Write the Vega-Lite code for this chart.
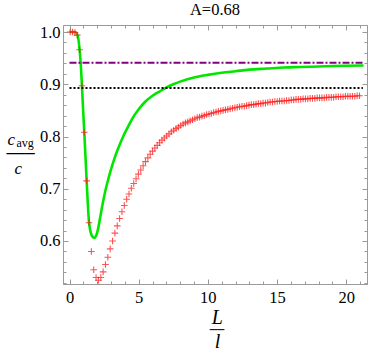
{
  "$schema": "https://vega.github.io/schema/vega-lite/v6.json",
  "width": 304,
  "height": 259,
  "autosize": "none",
  "padding": {"left": 63, "top": 25, "right": 7, "bottom": 70},
  "background": "white",
  "title": {"text": "A=0.68", "font": "Liberation Serif, Times New Roman, serif", "fontSize": 16.5, "fontWeight": "normal", "color": "black", "frame": "group", "anchor": "middle", "offset": 6},
  "config": {
    "font": "Liberation Serif, Times New Roman, serif",
    "view": {"stroke": null},
    "axis": {
      "grid": false,
      "domainColor": "#9a9a9a",
      "tickColor": "#9a9a9a",
      "labelFont": "Liberation Serif, Times New Roman, serif",
      "labelFontSize": 16.5,
      "labelColor": "black",
      "labelFlush": false,
      "labelOverlap": false,
      "titleFont": "Liberation Serif, Times New Roman, serif",
      "titleFontWeight": "normal",
      "titleColor": "black",
      "titleAngle": 0,
      "titlePadding": 0
    }
  },
  "resolve": {"axis": {"x": "independent", "y": "independent"}},
  "layer": [
    {
      "data": {"values": [
        {"x": 0, "y": 1.0}, {"x": 0.4, "y": 1.0}, {"x": 0.55, "y": 0.996}, {"x": 0.65, "y": 0.985},
        {"x": 0.73, "y": 0.966}, {"x": 0.82, "y": 0.936}, {"x": 0.9, "y": 0.897}, {"x": 0.98, "y": 0.853},
        {"x": 1.07, "y": 0.808}, {"x": 1.24, "y": 0.715}, {"x": 1.41, "y": 0.636}, {"x": 1.5, "y": 0.62},
        {"x": 1.6, "y": 0.611}, {"x": 1.7, "y": 0.607}, {"x": 1.79, "y": 0.606}, {"x": 1.9, "y": 0.609},
        {"x": 2.0, "y": 0.616}, {"x": 2.1, "y": 0.628}, {"x": 2.25, "y": 0.65}, {"x": 2.44, "y": 0.677},
        {"x": 2.6, "y": 0.697}, {"x": 2.8, "y": 0.718}, {"x": 3.0, "y": 0.737}, {"x": 3.29, "y": 0.761},
        {"x": 3.5, "y": 0.776}, {"x": 3.88, "y": 0.8}, {"x": 4.2, "y": 0.817}, {"x": 4.49, "y": 0.832},
        {"x": 5.0, "y": 0.852}, {"x": 5.45, "y": 0.866}, {"x": 6.0, "y": 0.878}, {"x": 6.5, "y": 0.886},
        {"x": 7.02, "y": 0.894}, {"x": 7.5, "y": 0.9}, {"x": 8.0, "y": 0.905}, {"x": 9.0, "y": 0.913},
        {"x": 10.0, "y": 0.918}, {"x": 11.0, "y": 0.922}, {"x": 12.0, "y": 0.925}, {"x": 13.0, "y": 0.928},
        {"x": 14.24, "y": 0.93}, {"x": 15.5, "y": 0.932}, {"x": 16.64, "y": 0.933}, {"x": 18.0, "y": 0.934},
        {"x": 19.05, "y": 0.935}, {"x": 21.25, "y": 0.936}
      ]},
      "mark": {"type": "line", "color": "#00e600", "strokeWidth": 2.6, "interpolate": "monotone"},
      "encoding": {
        "x": {"field": "x", "type": "quantitative", "scale": {"domain": [-0.47, 21.5], "nice": false, "zero": false},
          "axis": {"orient": "bottom", "values": [0, 5, 10, 15, 20], "format": "d", "tickSize": -5, "labelPadding": 10,
            "title": "L", "titleFontStyle": "italic", "titleFontSize": 20, "titleX": 153.7, "titleY": 39, "titleAlign": "center", "titleBaseline": "alphabetic"}},
        "y": {"field": "y", "type": "quantitative", "scale": {"domain": [0.5177, 1.0134], "nice": false, "zero": false},
          "axis": {"orient": "left", "values": [0.6, 0.7, 0.8, 0.9, 1.0], "format": ".1f", "tickSize": -5, "labelPadding": 8,
            "title": "c", "titleFontStyle": "italic", "titleFontSize": 17, "titleX": -56, "titleY": 119, "titleAlign": "left", "titleBaseline": "alphabetic"}}
      }
    },
    {
      "data": {"values": [
        {"x": 0.05, "y": 1.0}, {"x": 0.22, "y": 1.0}, {"x": 0.39, "y": 0.999}, {"x": 0.56, "y": 0.994},
        {"x": 0.73, "y": 0.966}, {"x": 0.9, "y": 0.897}, {"x": 1.07, "y": 0.808}, {"x": 1.24, "y": 0.715},
        {"x": 1.41, "y": 0.635}, {"x": 1.58, "y": 0.58}, {"x": 1.75, "y": 0.545}, {"x": 1.92, "y": 0.53},
        {"x": 2.09, "y": 0.525}, {"x": 2.26, "y": 0.53}, {"x": 2.43, "y": 0.541}, {"x": 2.6, "y": 0.555},
        {"x": 2.77, "y": 0.569}, {"x": 2.94, "y": 0.585}, {"x": 3.11, "y": 0.6}, {"x": 3.28, "y": 0.615},
        {"x": 3.45, "y": 0.629}, {"x": 3.62, "y": 0.643}, {"x": 3.79, "y": 0.656}, {"x": 3.96, "y": 0.668},
        {"x": 4.13, "y": 0.68}, {"x": 4.3, "y": 0.69}, {"x": 4.47, "y": 0.701}, {"x": 4.64, "y": 0.71},
        {"x": 4.81, "y": 0.719}, {"x": 4.98, "y": 0.728}, {"x": 5.15, "y": 0.736}, {"x": 5.32, "y": 0.744},
        {"x": 5.49, "y": 0.752}, {"x": 5.66, "y": 0.759}, {"x": 5.83, "y": 0.766}, {"x": 6.0, "y": 0.772},
        {"x": 6.17, "y": 0.778}, {"x": 6.34, "y": 0.783}, {"x": 6.51, "y": 0.788}, {"x": 6.68, "y": 0.793},
        {"x": 6.85, "y": 0.797}, {"x": 7.02, "y": 0.801}, {"x": 7.19, "y": 0.805}, {"x": 7.36, "y": 0.809},
        {"x": 7.53, "y": 0.812}, {"x": 7.7, "y": 0.815}, {"x": 7.87, "y": 0.818}, {"x": 8.04, "y": 0.821},
        {"x": 8.21, "y": 0.824}, {"x": 8.38, "y": 0.826}, {"x": 8.55, "y": 0.828}, {"x": 8.72, "y": 0.83},
        {"x": 8.89, "y": 0.832}, {"x": 9.06, "y": 0.834}, {"x": 9.23, "y": 0.836}, {"x": 9.4, "y": 0.837},
        {"x": 9.57, "y": 0.839}, {"x": 9.74, "y": 0.84}, {"x": 9.91, "y": 0.842}, {"x": 10.08, "y": 0.843},
        {"x": 10.25, "y": 0.844}, {"x": 10.42, "y": 0.846}, {"x": 10.59, "y": 0.847}, {"x": 10.76, "y": 0.848},
        {"x": 10.93, "y": 0.849}, {"x": 11.1, "y": 0.85}, {"x": 11.27, "y": 0.851}, {"x": 11.44, "y": 0.852},
        {"x": 11.61, "y": 0.853}, {"x": 11.78, "y": 0.854}, {"x": 11.95, "y": 0.855}, {"x": 12.12, "y": 0.856},
        {"x": 12.29, "y": 0.857}, {"x": 12.46, "y": 0.858}, {"x": 12.63, "y": 0.858}, {"x": 12.8, "y": 0.859},
        {"x": 12.97, "y": 0.86}, {"x": 13.14, "y": 0.861}, {"x": 13.31, "y": 0.861}, {"x": 13.48, "y": 0.862},
        {"x": 13.65, "y": 0.863}, {"x": 13.82, "y": 0.863}, {"x": 13.99, "y": 0.864}, {"x": 14.16, "y": 0.864},
        {"x": 14.33, "y": 0.865}, {"x": 14.5, "y": 0.866}, {"x": 14.67, "y": 0.866}, {"x": 14.84, "y": 0.867},
        {"x": 15.01, "y": 0.867}, {"x": 15.18, "y": 0.868}, {"x": 15.35, "y": 0.868}, {"x": 15.52, "y": 0.868},
        {"x": 15.69, "y": 0.869}, {"x": 15.86, "y": 0.869}, {"x": 16.03, "y": 0.87}, {"x": 16.2, "y": 0.87},
        {"x": 16.37, "y": 0.871}, {"x": 16.54, "y": 0.871}, {"x": 16.71, "y": 0.871}, {"x": 16.88, "y": 0.872},
        {"x": 17.05, "y": 0.872}, {"x": 17.22, "y": 0.872}, {"x": 17.39, "y": 0.873}, {"x": 17.56, "y": 0.873},
        {"x": 17.73, "y": 0.873}, {"x": 17.9, "y": 0.874}, {"x": 18.07, "y": 0.874}, {"x": 18.24, "y": 0.874},
        {"x": 18.41, "y": 0.874}, {"x": 18.58, "y": 0.875}, {"x": 18.75, "y": 0.875}, {"x": 18.92, "y": 0.875},
        {"x": 19.09, "y": 0.875}, {"x": 19.26, "y": 0.876}, {"x": 19.43, "y": 0.876}, {"x": 19.6, "y": 0.876},
        {"x": 19.77, "y": 0.876}, {"x": 19.94, "y": 0.877}, {"x": 20.11, "y": 0.877}, {"x": 20.28, "y": 0.877},
        {"x": 20.45, "y": 0.877}, {"x": 20.62, "y": 0.877}, {"x": 20.79, "y": 0.878}, {"x": 20.96, "y": 0.878}
      ]},
      "mark": {"type": "point", "shape": "M-1,0H1M0,-1V1", "filled": false, "stroke": "#ff1a1a", "strokeWidth": 1.1, "size": 44, "opacity": 0.75},
      "encoding": {
        "x": {"field": "x", "type": "quantitative", "scale": {"domain": [-0.47, 21.5], "nice": false, "zero": false},
          "axis": {"orient": "top", "values": [0, 5, 10, 15, 20], "tickSize": -5, "labels": false,
            "title": "l", "titleFontStyle": "italic", "titleFontSize": 20, "titleX": 154, "titleY": 322, "titleAlign": "center", "titleBaseline": "alphabetic"}},
        "y": {"field": "y", "type": "quantitative", "scale": {"domain": [0.5177, 1.0134], "nice": false, "zero": false},
          "axis": {"orient": "right", "values": [0.6, 0.7, 0.8, 0.9, 1.0], "tickSize": -5, "labels": false,
            "title": "───", "titleFont": "DejaVu Sans", "titleFontStyle": "normal", "titleFontSize": 15.5, "titleX": -361, "titleY": 128, "titleAlign": "left", "titleBaseline": "middle"}}
      }
    },
    {
      "data": {"values": [{"x": 0, "y": 0.941}, {"x": 21.2, "y": 0.941}]},
      "mark": {"type": "line", "color": "#800080", "strokeWidth": 2, "strokeDash": [7, 2, 2, 2]},
      "encoding": {
        "x": {"field": "x", "type": "quantitative", "scale": {"domain": [-0.47, 21.5], "nice": false, "zero": false},
          "axis": {"orient": "bottom", "values": [0,1,2,3,4,5,6,7,8,9,10,11,12,13,14,15,16,17,18,19,20,21], "tickSize": -3, "labels": false,
            "title": "──", "titleFont": "DejaVu Sans", "titleFontSize": 12, "titleX": 153.5, "titleY": 45, "titleAlign": "center", "titleBaseline": "middle"}},
        "y": {"field": "y", "type": "quantitative", "scale": {"domain": [0.5177, 1.0134], "nice": false, "zero": false},
          "axis": {"orient": "left", "values": [0.52,0.54,0.56,0.58,0.6,0.62,0.64,0.66,0.68,0.7,0.72,0.74,0.76,0.78,0.8,0.82,0.84,0.86,0.88,0.9,0.92,0.94,0.96,0.98,1.0], "tickSize": -3, "labels": false,
            "title": "avg", "titleFontSize": 12, "titleX": -47, "titleY": 121, "titleAlign": "left", "titleBaseline": "alphabetic"}}
      }
    },
    {
      "data": {"values": [{"x": 0, "y": 0.893}, {"x": 21.2, "y": 0.893}]},
      "mark": {"type": "line", "color": "black", "strokeWidth": 2, "strokeDash": [2, 2]},
      "encoding": {
        "x": {"field": "x", "type": "quantitative", "scale": {"domain": [-0.47, 21.5], "nice": false, "zero": false},
          "axis": {"orient": "top", "values": [0,1,2,3,4,5,6,7,8,9,10,11,12,13,14,15,16,17,18,19,20,21], "tickSize": -3, "labels": false, "title": null}},
        "y": {"field": "y", "type": "quantitative", "scale": {"domain": [0.5177, 1.0134], "nice": false, "zero": false},
          "axis": {"orient": "right", "values": [0.52,0.54,0.56,0.58,0.6,0.62,0.64,0.66,0.68,0.7,0.72,0.74,0.76,0.78,0.8,0.82,0.84,0.86,0.88,0.9,0.92,0.94,0.96,0.98,1.0], "tickSize": -3, "labels": false,
            "title": "c", "titleFontStyle": "italic", "titleFontSize": 17, "titleX": -353, "titleY": 148, "titleAlign": "left", "titleBaseline": "alphabetic"}}
      }
    }
  ]
}
